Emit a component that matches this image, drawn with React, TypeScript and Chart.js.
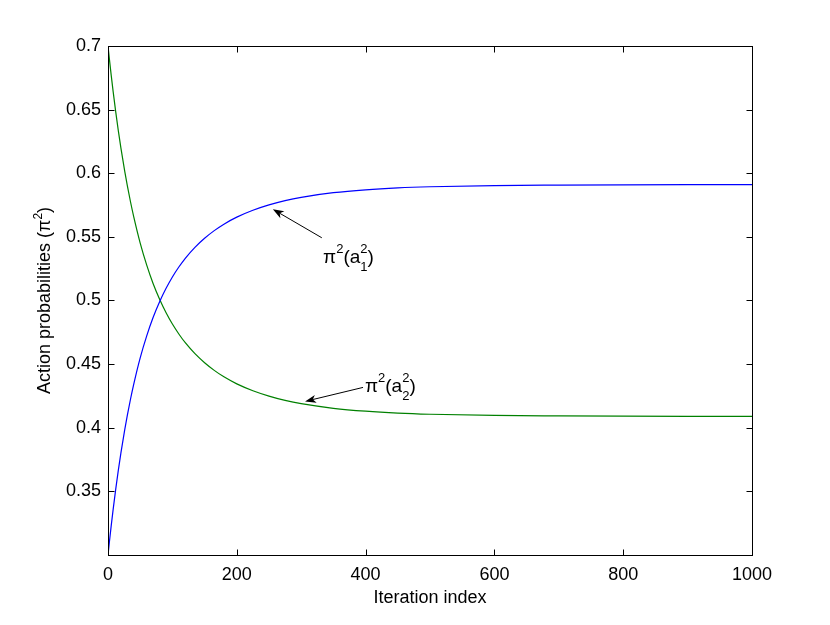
import React, { useEffect, useRef } from "react";
import { Chart, registerables } from "chart.js";

Chart.register(...registerables);

// ---- data ----
const iterations = [0, 2, 5, 8, 12, 16, 20, 26, 30, 35, 40, 50, 60, 70, 81, 90, 100, 110, 120, 135, 150, 165, 180, 200, 225, 250, 275, 300, 350, 400, 450, 500, 600, 700, 800, 900, 1000];
const probA1 = [0.300, 0.3095, 0.3231, 0.3359, 0.3518, 0.3665, 0.3801, 0.3985, 0.4097, 0.4226, 0.4343, 0.4549, 0.4720, 0.4866, 0.5000, 0.5094, 0.5185, 0.5263, 0.5332, 0.5418, 0.5489, 0.5549, 0.5600, 0.5655, 0.5709, 0.5751, 0.5785, 0.5811, 0.5847, 0.5870, 0.5885, 0.5894, 0.59035, 0.5907, 0.5909, 0.591, 0.591];
const probA2 = [0.700, 0.6905, 0.6769, 0.6641, 0.6482, 0.6335, 0.6199, 0.6015, 0.5903, 0.5774, 0.5657, 0.5451, 0.5280, 0.5134, 0.5000, 0.4906, 0.4815, 0.4737, 0.4668, 0.4582, 0.4511, 0.4451, 0.4400, 0.4345, 0.4291, 0.4249, 0.4215, 0.4189, 0.4153, 0.4130, 0.4115, 0.4106, 0.40965, 0.4093, 0.4091, 0.409, 0.409];

const xTickValues = [0, 200, 400, 600, 800, 1000];
const xTickLabels = ["0", "200", "400", "600", "800", "1000"];
const yTickValues = [0.3, 0.35, 0.4, 0.45, 0.5, 0.55, 0.6, 0.65, 0.7];
const yTickLabels = ["", "0.35", "0.4", "0.45", "0.5", "0.55", "0.6", "0.65", "0.7"];

const xTitle = "Iteration index";
const yTitle = "Action probabilities (π";

// annotations: arrow tail/tip and label anchor, in data coordinates
const annotations = [
  { tail: [332, 0.5493], tip: [256, 0.5717], label: [334, 0.5294], sub: "1" },
  { tail: [396, 0.4317], tip: [306, 0.4207], label: [399, 0.4278], sub: "2" },
];

const FONT = '"Liberation Sans", Arial, Helvetica, sans-serif';

type Part = { text?: string; size: number; dy?: number; sup?: string; sub?: string };

function partWidth(ctx: CanvasRenderingContext2D, p: Part) {
  ctx.font = `${p.size}px ${FONT}`;
  if (p.sup !== undefined || p.sub !== undefined) {
    return Math.max(ctx.measureText(p.sup || "").width, ctx.measureText(p.sub || "").width);
  }
  return ctx.measureText(p.text || "").width;
}

function richWidth(ctx: CanvasRenderingContext2D, parts: Part[]) {
  return parts.reduce((s, p) => s + partWidth(ctx, p), 0);
}

function drawRich(ctx: CanvasRenderingContext2D, parts: Part[], x: number, y: number, supDy: number, subDy: number) {
  let cx = x;
  ctx.textAlign = "left";
  ctx.textBaseline = "alphabetic";
  for (const p of parts) {
    const w = partWidth(ctx, p);
    ctx.font = `${p.size}px ${FONT}`;
    if (p.sup !== undefined || p.sub !== undefined) {
      if (p.sup) ctx.fillText(p.sup, cx, y + supDy);
      if (p.sub) ctx.fillText(p.sub, cx, y + subDy);
    } else {
      ctx.fillText(p.text || "", cx, y + (p.dy || 0));
    }
    cx += w;
  }
}

function drawArrow(ctx: CanvasRenderingContext2D, x0: number, y0: number, x1: number, y1: number) {
  const ang = Math.atan2(y1 - y0, x1 - x0);
  const len = 11;
  const half = 4;
  const notch = 3;
  ctx.save();
  ctx.strokeStyle = "#000";
  ctx.fillStyle = "#000";
  ctx.lineWidth = 1;
  ctx.beginPath();
  ctx.moveTo(x0, y0);
  ctx.lineTo(x1 - Math.cos(ang) * (len - notch), y1 - Math.sin(ang) * (len - notch));
  ctx.stroke();
  ctx.translate(x1, y1);
  ctx.rotate(ang);
  ctx.beginPath();
  ctx.moveTo(0, 0);
  ctx.lineTo(-len, -half);
  ctx.lineTo(-len + notch, 0);
  ctx.lineTo(-len, half);
  ctx.closePath();
  ctx.fill();
  ctx.restore();
}

const framePlugin = {
  id: "matlabFrame",
  afterDraw(chart: any) {
    const { ctx, chartArea: a, scales } = chart;
    const xs = scales.x;
    const ys = scales.y;
    ctx.save();
    // frame
    ctx.strokeStyle = "#000";
    ctx.lineWidth = 1;
    const L = Math.round(a.left) + 0.5;
    const R = Math.round(a.right) + 0.5;
    const T = Math.round(a.top) + 0.5;
    const B = Math.round(a.bottom) + 0.5;
    ctx.strokeRect(L, T, R - L, B - T);
    // inward ticks
    const tl = 6;
    ctx.beginPath();
    for (const v of xTickValues) {
      const px = Math.round(xs.getPixelForValue(v)) + 0.5;
      ctx.moveTo(px, B);
      ctx.lineTo(px, B - tl);
      ctx.moveTo(px, T);
      ctx.lineTo(px, T + tl);
    }
    for (const v of yTickValues) {
      const py = Math.round(ys.getPixelForValue(v)) + 0.5;
      ctx.moveTo(L, py);
      ctx.lineTo(L + tl, py);
      ctx.moveTo(R, py);
      ctx.lineTo(R - tl, py);
    }
    ctx.stroke();

    ctx.fillStyle = "#000";
    // x title
    ctx.font = `18px ${FONT}`;
    ctx.textAlign = "center";
    ctx.textBaseline = "alphabetic";
    ctx.fillText(xTitle, (a.left + a.right) / 2, 603);

    // y title (rotated) with superscript
    const yParts: Part[] = [
      { text: yTitle, size: 18 },
      { text: "2", size: 12, dy: -8 },
      { text: ")", size: 18 },
    ];
    const w = richWidth(ctx, yParts);
    ctx.save();
    ctx.translate(50, (a.top + a.bottom) / 2);
    ctx.rotate(-Math.PI / 2);
    drawRich(ctx, yParts, -w / 2, 0, 0, 0);
    ctx.restore();

    // annotations
    for (const an of annotations) {
      const tx = xs.getPixelForValue(an.tail[0]);
      const ty = ys.getPixelForValue(an.tail[1]);
      const hx = xs.getPixelForValue(an.tip[0]);
      const hy = ys.getPixelForValue(an.tip[1]);
      drawArrow(ctx, tx, ty, hx, hy);
      const lx = xs.getPixelForValue(an.label[0]);
      const ly = ys.getPixelForValue(an.label[1]);
      const parts: Part[] = [
        { text: "π", size: 19 },
        { sup: "2", size: 13 },
        { text: "(a", size: 19 },
        { sup: "2", sub: an.sub, size: 13 },
        { text: ")", size: 19 },
      ];
      drawRich(ctx, parts, lx, ly, -10, 8);
    }
    ctx.restore();
  },
};

export default function App() {
  const ref = useRef<HTMLCanvasElement | null>(null);
  useEffect(() => {
    if (!ref.current) return;
    const chart = new Chart(ref.current, {
      type: "line",
      data: {
        datasets: [
          {
            label: "a1",
            data: iterations.map((x, i) => ({ x, y: probA1[i] })),
            borderColor: "#0000ff",
            borderWidth: 1.2,
            pointRadius: 0,
            cubicInterpolationMode: "monotone",
            fill: false,
          },
          {
            label: "a2",
            data: iterations.map((x, i) => ({ x, y: probA2[i] })),
            borderColor: "#008000",
            borderWidth: 1.2,
            pointRadius: 0,
            cubicInterpolationMode: "monotone",
            fill: false,
          },
        ],
      },
      options: {
        responsive: false,
        animation: false,
        devicePixelRatio: 1,
        layout: { padding: { left: 0, top: 46, right: 78, bottom: 0 } },
        plugins: { legend: { display: false }, tooltip: { enabled: false } },
        scales: {
          x: {
            type: "linear",
            min: 0,
            max: 1000,
            grid: { display: false, drawTicks: false },
            border: { display: false },
            afterBuildTicks: (s: any) => {
              s.ticks = xTickValues.map((v) => ({ value: v }));
            },
            afterFit: (s: any) => {
              s.height = 70;
            },
            ticks: {
              padding: 9,
              color: "#000",
              font: { family: FONT, size: 18 },
              maxRotation: 0,
              autoSkip: false,
              callback: (v: any) => xTickLabels[xTickValues.indexOf(Number(v))] ?? "",
            },
          },
          y: {
            type: "linear",
            min: 0.3,
            max: 0.7,
            grid: { display: false, drawTicks: false },
            border: { display: false },
            afterBuildTicks: (s: any) => {
              s.ticks = yTickValues.map((v) => ({ value: v }));
            },
            afterFit: (s: any) => {
              s.width = 108;
            },
            ticks: {
              padding: 7,
              color: "#000",
              font: { family: FONT, size: 18 },
              autoSkip: false,
              callback: (v: any) => {
                const i = yTickValues.findIndex((t) => Math.abs(t - Number(v)) < 1e-6);
                return i >= 0 ? yTickLabels[i] : "";
              },
            },
          },
        },
      },
      plugins: [framePlugin],
    } as any);
    return () => chart.destroy();
  }, []);
  return (
    <div style={{ position: "absolute", left: 0, top: 0, width: 830, height: 625, background: "#fff" }}>
      <canvas ref={ref} width={830} height={625} style={{ width: 830, height: 625, display: "block" }} />
    </div>
  );
}
